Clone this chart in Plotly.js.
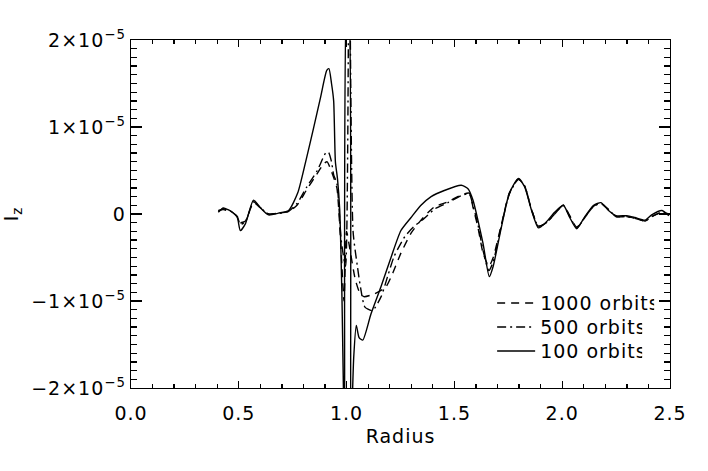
<!DOCTYPE html>
<html>
<head>
<meta charset="utf-8">
<script src="https://cdn.plot.ly/plotly-3.0.1.min.js"></script>
<style>
  html, body { margin: 0; padding: 0; background: #fff; }
  #plot { width: 708px; height: 471px; }
  /* the original glyphs run wider than any installed face */
  #plot text { letter-spacing: 1px; }
</style>
</head>
<body>
<div id="plot"></div>
<script>
// I_z in units of 1e-5.
const r100 = [0.405,0.428,0.45,0.47,0.493,0.507,0.531,0.568,0.601,0.638,0.684,0.731,0.773,0.81,0.847,0.88,0.908,0.918,0.93,0.94,0.948,0.958,0.968,0.978,0.99,1.003,1.008,1.02,1.033,1.045,1.058,1.075,1.113,1.159,1.206,1.252,1.299,1.345,1.392,1.453,1.532,1.563,1.586,1.609,1.633,1.662,1.68,1.718,1.755,1.797,1.826,1.858,1.89,1.927,1.965,2.005,2.035,2.067,2.105,2.146,2.18,2.215,2.25,2.30,2.337,2.385,2.415,2.463,2.495];
const iz100 = [0.02,0.07,0.05,0.02,-0.04,-0.19,-0.11,0.16,0.07,-0.01,0.01,0.04,0.24,0.6,0.99,1.35,1.65,1.67,1.5,1.3,0.6,0.4,0.05,-0.9,-2.6,2.6,2.6,-2.6,-1.65,-1.28,-1.42,-1.45,-1.15,-0.84,-0.5,-0.19,-0.04,0.1,0.2,0.27,0.33,0.29,0.16,-0.07,-0.34,-0.72,-0.6,-0.15,0.24,0.41,0.31,0.04,-0.16,-0.09,0.02,0.1,-0.04,-0.17,-0.03,0.10,0.13,0.04,-0.02,-0.02,-0.04,-0.07,-0.01,0.04,-0.02];

const r500 = [0.405,0.428,0.47,0.493,0.507,0.531,0.568,0.601,0.638,0.684,0.731,0.77,0.815,0.864,0.903,0.916,0.93,0.94,0.955,0.975,0.995,1.012,1.03,1.05,1.065,1.085,1.12,1.16,1.19,1.22,1.27,1.31,1.36,1.41,1.47,1.532,1.569,1.586,1.609,1.633,1.66,1.68,1.718,1.755,1.797,1.826,1.858,1.89,1.927,1.965,2.005,2.035,2.067,2.105,2.146,2.18,2.215,2.25,2.30,2.337,2.385,2.415,2.463,2.495];
const iz500 = [0.03,0.06,0.02,-0.03,-0.12,-0.09,0.14,0.07,0.0,0.01,0.03,0.12,0.31,0.5,0.7,0.71,0.6,0.45,0.35,-0.3,-0.6,3.2,-0.2,-0.6,-0.85,-1.07,-1.11,-0.95,-0.72,-0.49,-0.26,-0.15,-0.05,0.06,0.13,0.21,0.23,0.1,-0.12,-0.42,-0.65,-0.55,-0.13,0.23,0.4,0.32,0.05,-0.14,-0.1,0.0,0.1,-0.03,-0.16,-0.04,0.09,0.12,0.05,-0.03,-0.03,-0.05,-0.08,-0.03,0.02,0.0];

const r1000 = [0.405,0.428,0.47,0.493,0.507,0.531,0.568,0.601,0.638,0.684,0.731,0.77,0.815,0.86,0.895,0.91,0.925,0.94,0.955,0.972,0.988,1.0,1.015,1.04,1.06,1.08,1.127,1.182,1.214,1.252,1.299,1.345,1.406,1.47,1.532,1.569,1.586,1.609,1.633,1.66,1.68,1.718,1.755,1.797,1.826,1.858,1.89,1.927,1.965,2.005,2.035,2.067,2.105,2.146,2.18,2.215,2.25,2.30,2.337,2.385,2.415,2.463,2.495];
const iz1000 = [0.04,0.05,0.02,-0.03,-0.1,-0.08,0.13,0.07,0.0,0.01,0.03,0.1,0.28,0.45,0.58,0.6,0.52,0.42,0.3,-0.3,-1.0,-0.2,-0.4,-0.75,-0.9,-0.95,-0.92,-0.84,-0.68,-0.45,-0.22,-0.07,0.08,0.14,0.22,0.24,0.08,-0.15,-0.45,-0.6,-0.5,-0.12,0.24,0.4,0.32,0.05,-0.14,-0.1,0.0,0.1,-0.02,-0.15,-0.04,0.09,0.12,0.05,-0.03,-0.03,-0.05,-0.08,-0.03,0.02,0.0];

const yTickVals = [-2, -1, 0, 1, 2];
const yTickText = ["\u22122\u00d710<sup>\u22125</sup>", "\u22121\u00d710<sup>\u22125</sup>", "0",
                   "1\u00d710<sup>\u22125</sup>", "2\u00d710<sup>\u22125</sup>"];

const FONT = "DejaVu Sans, Verdana, sans-serif";
const FS = 19;

// one legend per trace so the rows can sit as tightly as the original
function line(x, y, name, dash, legend) {
  return {
    type: "scatter", mode: "lines", x, y, name, legend,
    line: { color: "#000", width: 1.4, dash, shape: "spline", smoothing: 0.6 },
    hoverinfo: "skip",
  };
}

const data = [
  line(r1000, iz1000, "1000 orbits", "8px,6px", "legend"),
  line(r500, iz500, "500 orbits", "9px,4px,2px,4px", "legend2"),
  line(r100, iz100, "100 orbits", "solid", "legend3"),
];

function legendAt(y) {
  return {
    x: 0.67, y, xanchor: "left", yanchor: "middle",
    bgcolor: "rgba(0,0,0,0)", borderwidth: 0, itemwidth: 38,
    font: { family: FONT, size: FS, color: "#000" },
  };
}

const axisBase = {
  showgrid: false, zeroline: false,
  showline: true, linecolor: "#000", linewidth: 1.3,
  mirror: "ticks", ticks: "inside", tickcolor: "#000", tickwidth: 1.3,
  tickfont: { family: FONT, size: FS, color: "#000" },
};

const layout = {
  width: 708, height: 471,
  paper_bgcolor: "#fff", plot_bgcolor: "#fff",
  margin: { l: 131, r: 38, t: 40, b: 83 },
  font: { family: FONT, size: FS, color: "#000" },
  showlegend: true,
  legend: legendAt(0.244),
  legend2: legendAt(0.175),
  legend3: legendAt(0.106),
  xaxis: {
    ...axisBase,
    range: [0, 2.5], dtick: 0.5, tickformat: ".1f", ticklen: 7, ticklabelstandoff: 8,
    minor: { dtick: 0.1, ticks: "inside", ticklen: 4, tickcolor: "#000", tickwidth: 1.3 },
    title: { text: "Radius", font: { family: FONT, size: FS }, standoff: 6 },
  },
  yaxis: {
    ...axisBase,
    range: [-2, 2], tickvals: yTickVals, ticktext: yTickText, ticklen: 11,
    minor: { dtick: 0.1, ticks: "inside", ticklen: 6, tickcolor: "#000", tickwidth: 1.3 },
    title: { text: "I<sub>z</sub>", font: { family: FONT, size: FS }, standoff: 44 },
  },
};

Plotly.newPlot("plot", data, layout, { displayModeBar: false, staticPlot: true });
</script>
</body>
</html>
